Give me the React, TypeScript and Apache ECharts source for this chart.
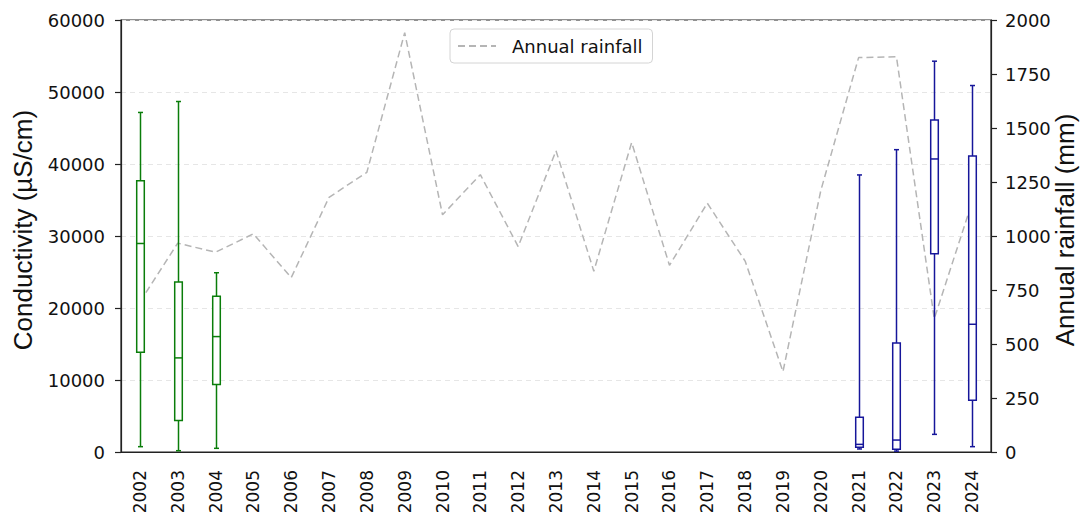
import React, { useEffect, useRef } from "react";
import * as echarts from "echarts";

const years = [
  "2002", "2003", "2004", "2005", "2006", "2007", "2008", "2009", "2010", "2011", "2012",
  "2013", "2014", "2015", "2016", "2017", "2018", "2019", "2020", "2021", "2022", "2023", "2024",
];

const rainfall = [
  695, 967, 925, 1010, 807, 1179, 1295, 1941, 1098, 1284, 951,
  1395, 837, 1433, 864, 1152, 884, 372, 1210, 1826, 1830, 617, 1156,
];

// Conductivity box statistics (µS/cm)
const earlyYears = ["2002", "2003", "2004"];
const earlyMin = [740, 180, 510];
const earlyQ1 = [13860, 4390, 9380];
const earlyMedian = [28960, 13070, 16030];
const earlyQ3 = [37690, 23600, 21620];
const earlyMax = [47160, 48680, 24900];

const lateYears = ["2021", "2022", "2023", "2024"];
const lateMin = [420, 120, 2450, 740];
const lateQ1 = [650, 370, 27530, 7200];
const lateMedian = [1060, 1660, 40700, 17740];
const lateQ3 = [4810, 15150, 46100, 41110];
const lateMax = [38480, 41990, 54280, 50900];

const leftTicks = { min: 0, max: 60000, interval: 10000 };
const rightTicks = { min: 0, max: 2000, interval: 250 };

function boxData(ys: string[], mn: number[], q1: number[], md: number[], q3: number[], mx: number[]) {
  return ys.map((y, i) => [years.indexOf(y), mn[i], q1[i], md[i], q3[i], mx[i]]);
}

function makeRender(color: string) {
  return (params: any, api: any) => {
    const idx = api.value(0);
    const pMin = api.coord([idx, api.value(1)]);
    const pQ1 = api.coord([idx, api.value(2)]);
    const pMed = api.coord([idx, api.value(3)]);
    const pQ3 = api.coord([idx, api.value(4)]);
    const pMax = api.coord([idx, api.value(5)]);
    const cx = Math.round(pMed[0]) + 0.5;
    const hw = 3.8;
    const cw = 2.5;
    const st = { stroke: color, lineWidth: 1.5, fill: "none" };
    return {
      type: "group",
      children: [
        { type: "line", shape: { x1: cx, y1: pQ3[1], x2: cx, y2: pMax[1] }, style: st },
        { type: "line", shape: { x1: cx, y1: pQ1[1], x2: cx, y2: pMin[1] }, style: st },
        { type: "line", shape: { x1: cx - cw, y1: pMax[1], x2: cx + cw, y2: pMax[1] }, style: st },
        { type: "line", shape: { x1: cx - cw, y1: pMin[1], x2: cx + cw, y2: pMin[1] }, style: st },
        {
          type: "rect",
          shape: { x: cx - hw, y: pQ3[1], width: hw * 2, height: pQ1[1] - pQ3[1] },
          style: { stroke: color, lineWidth: 1.5, fill: "#ffffff" },
        },
        { type: "line", shape: { x1: cx - hw, y1: pMed[1], x2: cx + hw, y2: pMed[1] }, style: st },
      ],
    };
  };
}

export default function App() {
  const ref = useRef<HTMLDivElement>(null);
  useEffect(() => {
    document.body.style.margin = "0";
    const chart = echarts.init(ref.current!, null, { renderer: "svg" });
    const tickFont = { fontFamily: "DejaVu Sans", color: "#111" };
    const plain = (v: number) => String(v);
    const titleFont = { fontFamily: "Liberation Sans", fontSize: 26, color: "#111", padding: [0, 0, 0, 12] };
    chart.setOption({
      animation: false,
      backgroundColor: "#ffffff",
      grid: {
        left: 121,
        right: 92,
        top: 20,
        bottom: 66,
        containLabel: false,
        outerBoundsMode: "none",
        show: true,
        borderColor: "#222",
        borderWidth: 1.2,
        backgroundColor: "transparent",
      },
      legend: {
        data: ["Annual rainfall"],
        left: 450,
        top: 29,
        padding: [8, 10, 8, 7],
        itemWidth: 38,
        itemHeight: 14,
        borderColor: "#d4d4d4",
        borderWidth: 1,
        borderRadius: 4,
        backgroundColor: "rgba(255,255,255,0.8)",
        itemStyle: { opacity: 0, color: "rgba(0,0,0,0)", borderWidth: 0 },
        textStyle: { fontFamily: "DejaVu Sans", fontSize: 18, color: "#111", padding: [0, 0, 0, 11] },
      },
      xAxis: {
        type: "category",
        data: years,
        boundaryGap: true,
        axisLine: { lineStyle: { color: "#222", width: 1.2 } },
        axisTick: { alignWithLabel: true, length: 6, lineStyle: { color: "#222", width: 1.2 } },
        axisLabel: { ...tickFont, fontSize: 17, rotate: 90, margin: 18, interval: 0 },
        splitLine: { show: false },
      },
      yAxis: [
        {
          type: "value",
          ...leftTicks,
          name: "Conductivity (µS/cm)",
          nameLocation: "middle",
          nameGap: 85,
          nameMoveOverlap: false,
          nameTextStyle: titleFont,
          axisLine: { show: true, lineStyle: { color: "#222", width: 1.2 } },
          axisTick: { show: true, length: 6, lineStyle: { color: "#222", width: 1.2 } },
          axisLabel: { ...tickFont, fontSize: 18, margin: 16, formatter: plain },
          splitLine: { show: true, lineStyle: { color: "#e6e6e6", type: [5, 4], width: 1 } },
        },
        {
          type: "value",
          ...rightTicks,
          position: "right",
          name: "Annual rainfall (mm)",
          nameLocation: "middle",
          nameGap: 61,
          nameRotate: 90,
          nameMoveOverlap: false,
          nameTextStyle: titleFont,
          axisLine: { show: true, lineStyle: { color: "#222", width: 1.2 } },
          axisTick: { show: true, length: 6, lineStyle: { color: "#222", width: 1.2 } },
          axisLabel: { ...tickFont, fontSize: 18, margin: 14, formatter: plain },
          splitLine: { show: false },
        },
      ],
      series: [
        {
          name: "Annual rainfall",
          type: "line",
          yAxisIndex: 1,
          data: rainfall,
          symbol: "none",
          z: 1,
          lineStyle: { color: "#b5b5b5", width: 1.5, type: [7, 4] },
          itemStyle: { color: "#b5b5b5" },
        },
        {
          name: "Conductivity early",
          type: "custom",
          yAxisIndex: 0,
          z: 3,
          renderItem: makeRender("#0a7d0a"),
          encode: { x: 0, y: [1, 2, 3, 4, 5] },
          data: boxData(earlyYears, earlyMin, earlyQ1, earlyMedian, earlyQ3, earlyMax),
        },
        {
          name: "Conductivity late",
          type: "custom",
          yAxisIndex: 0,
          z: 3,
          renderItem: makeRender("#16169a"),
          encode: { x: 0, y: [1, 2, 3, 4, 5] },
          data: boxData(lateYears, lateMin, lateQ1, lateMedian, lateQ3, lateMax),
        },
      ],
    });
    return () => chart.dispose();
  }, []);
  return <div ref={ref} style={{ width: 1083, height: 518 }} />;
}
